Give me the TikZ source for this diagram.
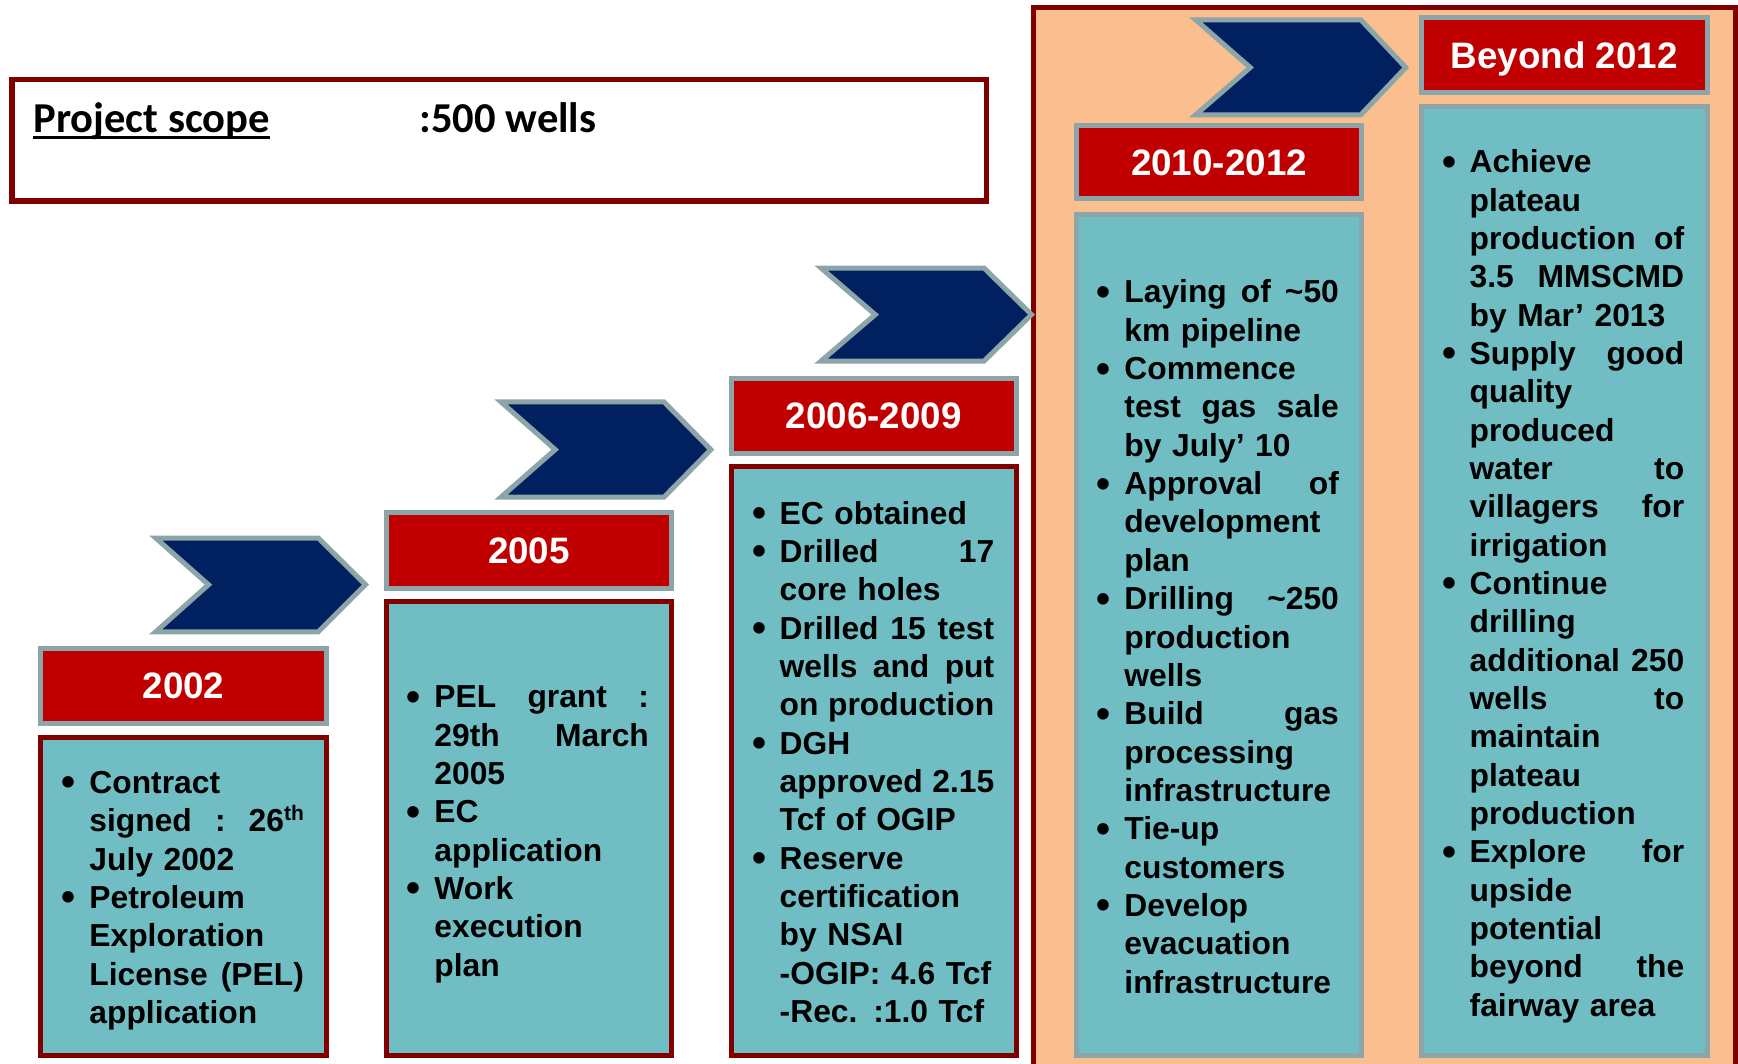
\documentclass[tikz,border=0pt]{standalone}
\usepackage{fontspec}
\setmainfont{Liberation Sans}
\newfontfamily\calib{Carlito}
\setlength{\parindent}{0pt}
\definecolor{dred}{HTML}{800000}
\definecolor{hred}{HTML}{C00000}
\definecolor{greyb}{HTML}{8BA5A9}
\definecolor{navyc}{HTML}{002060}
\definecolor{tealbox}{HTML}{71BDC4}
\definecolor{orng}{HTML}{FBBE8E}
\newlength\colw
\setlength\colw{107.25pt}
\newcommand\B{\leavevmode\llap{\raisebox{-1.2pt}{\fontsize{20}{20}\selectfont\textbullet}\hspace{6.75pt}}}
\newcommand\J[1]{\leavevmode\hbox to \colw{#1}}
\newcommand\s{\hfill}
\newcommand\topstrut{\leavevmode\rule{0pt}{13.42pt}}
\newcommand\supth{\raisebox{5.8pt}{\fontsize{10.5}{11}\selectfont th}}
\newcommand\bodyfont{\bfseries\fontsize{15.9}{19.17}\selectfont\lineskiplimit=-30pt\relax}
\newcommand\hdrfont{\bfseries\fontsize{18.4}{22}\selectfont}
\newcommand\scopefont{\calib\bfseries\fontsize{21.3}{25}\selectfont}
\tikzset{
  hdr/.style={draw=greyb, fill=hred, line width=2.5pt, text=white, inner sep=0pt,
    text depth=0pt, font=\hdrfont},
  cbox/.style={draw=dred, fill=tealbox, line width=2.5pt, inner sep=0pt},
  cboxg/.style={cbox, draw=greyb},
  body/.style={anchor=north west, inner sep=0pt, text width=107.25pt, align=left,
    font=\bodyfont},
  chev/.style={draw=greyb, fill=navyc, line width=2.5pt, line join=miter},
}
\begin{document}
\begin{tikzpicture}[x=0.5pt,y=-0.5pt]
\useasboundingbox (0,0) rectangle (1738,1064);
\clip (0,0) rectangle (1738,1064);
\fill[white] (0,0) rectangle (1738,1064);

% project scope
\node[draw=dred, fill=white, line width=2.75pt, inner sep=0pt,
  minimum width=487.25pt, minimum height=60.75pt] (scope) at (499,140.5) {};
\node[anchor=base west, inner sep=0pt, font=\scopefont]
  (ps) at (33,132.3) {Project scope\hspace{5.5pt}};
\node[anchor=base west, inner sep=0pt, font=\scopefont]
  (pv) at (419,132.3) {:500 wells};
\draw[line width=1.65pt] ([yshift=-2.75pt]ps.base west) -- ([yshift=-2.75pt]ps.base east);

% late phase container
\node[draw=dred, fill=orng, line width=2.5pt, inner sep=0pt,
  minimum width=351pt, minimum height=546.4pt] (late) at (1384.5,553.6) {};

% chevrons
\draw[chev] (155.7,538) -- (318.3,538) -- (365.5,584.7) -- (318.3,631.8) -- (155.7,631.8) -- (208.5,584.7) -- cycle;
\draw[chev] (501,401.9) -- (664,401.9) -- (710.8,449.6) -- (664,497.1) -- (501,497.1) -- (555.2,449.6) -- cycle;
\draw[chev] (821,268) -- (984,268) -- (1031.5,314.6) -- (984,361.1) -- (821,361.1) -- (875.2,314.6) -- cycle;
\draw[chev] (1195.7,19.8) -- (1360.8,19.8) -- (1405.7,67.5) -- (1360.8,114.8) -- (1195.7,114.8) -- (1250.2,67.5) -- cycle;

% headers
\node[hdr, minimum width=143pt, minimum height=37.95pt] (h1) at (183.5,686) {2002};
\node[hdr, minimum width=142.5pt, minimum height=37.65pt] (h2) at (529,550.5) {2005};
\node[hdr, minimum width=142.75pt, minimum height=37.5pt] (h3) at (873.75,415.5) {2006-2009};
\node[hdr, minimum width=142.5pt, minimum height=36.5pt] (h4) at (1219,162.3) {2010-2012};
\node[hdr, minimum width=143.25pt, minimum height=37.5pt] (h5) at (1564.25,55.5) {Beyond 2012};

% content boxes
\node[cbox, minimum width=143pt, minimum height=158.75pt] (c1) at (183.5,896.45) {};
\node[cbox, minimum width=142.5pt, minimum height=226.65pt] (c2) at (529,828.55) {};
\node[cbox, minimum width=142.75pt, minimum height=294.15pt] (c3) at (873.75,761.05) {};
\node[cboxg, minimum width=142.5pt, minimum height=420.5pt] (c4) at (1219,634.7) {};
\node[cboxg, minimum width=143pt, minimum height=474.35pt] (c5) at (1564.5,580.85) {};

% texts
\node[body] (t1) at (89,766.1) {\topstrut\B Contract\\
\J{signed\s:\s26\supth}\\
July 2002\\
\B Petroleum\\
Exploration\\
\J{License\s(PEL)}\\
application};

\node[body] (t2) at (434,680.5) {\topstrut\B\J{PEL\s grant\s:}\\
\J{29th\s March}\\
2005\\
\B EC\\
application\\
\B Work\\
execution\\
plan};

\node[body] (t3) at (779.3,496.9) {\topstrut\B EC obtained\\
\B\J{Drilled\s17}\\
core holes\\
\B\J{Drilled\s15\s test}\\
\J{wells\s and\s put}\\
\J{on\s production}\\
\B DGH\\
\J{approved\s2.15}\\
Tcf of OGIP\\
\B Reserve\\
certification\\
by NSAI\\
-OGIP: 4.6 Tcf\\
-Rec. :1.0 Tcf};

\node[body] (t4) at (1124,275.7) {\topstrut\B\J{Laying\s of\s\textasciitilde50}\\
km pipeline\\
\B Commence\\
\J{test\s gas\s sale}\\
by July’ 10\\
\B\J{Approval\s of}\\
development\\
plan\\
\B\J{Drilling\s\textasciitilde250}\\
production\\
wells\\
\B\J{Build\s gas}\\
processing\\
infrastructure\\
\B Tie-up\\
customers\\
\B Develop\\
evacuation\\
infrastructure};

\node[body] (t5) at (1469.3,145.6) {\topstrut\B Achieve\\
plateau\\
\J{production\s of}\\
\J{3.5\s MMSCMD}\\
by Mar’ 2013\\
\B\J{Supply\s good}\\
quality\\
produced\\
\J{water\s to}\\
\J{villagers\s for}\\
irrigation\\
\B Continue\\
drilling\\
\J{additional\s250}\\
\J{wells\s to}\\
maintain\\
plateau\\
production\\
\B\J{Explore\s for}\\
upside\\
potential\\
\J{beyond\s the}\\
fairway area};
\end{tikzpicture}
\end{document}
